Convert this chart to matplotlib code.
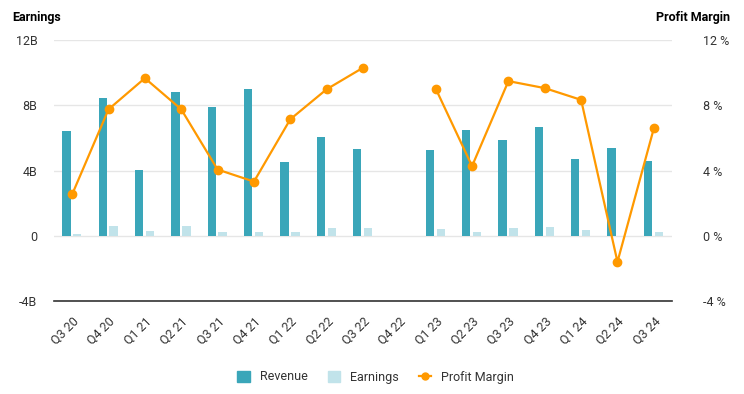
import numpy as np
import matplotlib.pyplot as plt
from matplotlib.lines import Line2D
from matplotlib.patches import Patch

plt.rcParams['font.family'] = ['Roboto', 'DejaVu Sans']

quarters = ["Q3 20", "Q4 20", "Q1 21", "Q2 21", "Q3 21", "Q4 21", "Q1 22", "Q2 22", "Q3 22",
            "Q4 22", "Q1 23", "Q2 23", "Q3 23", "Q4 23", "Q1 24", "Q2 24", "Q3 24"]
# billions
revenue = [6.4, 8.47, 4.06, 8.84, 7.92, 8.98, 4.53, 6.03, 5.33,
           np.nan, 5.27, 6.5, 5.9, 6.69, 4.72, 5.4, 4.6]
earnings = [0.12, 0.6, 0.31, 0.6, 0.25, 0.25, 0.25, 0.47, 0.47,
            np.nan, 0.41, 0.23, 0.47, 0.53, 0.37, np.nan, 0.23]
# percent
margin = [2.54, 7.75, 9.66, 7.75, 4.06, 3.32, 7.14, 8.98, 10.3,
          np.nan, 9.02, 4.27, 9.48, 9.05, 8.33, -1.6, 6.58]

left_ticks = [-4, 0, 4, 8, 12]
left_labels = ["-4B", "0", "4B", "8B", "12B"]
right_labels = ["-4 %", "0 %", "4 %", "8 %", "12 %"]

c_rev = "#3aa6b9"
c_earn = "#c1e3ea"
c_margin = "#ff9900"
c_text = "#333333"

fig = plt.figure(figsize=(7.44, 3.94), dpi=100)
ax = fig.add_axes([54 / 744, 1 - 301 / 394, 618 / 744, 261 / 394])
x = np.arange(len(quarters))

ax.bar(x - 0.16, revenue, width=0.23, color=c_rev, zorder=2)
ax.bar(x + 0.14, earnings, width=0.23, color=c_earn, zorder=2)

ax.set_xlim(-0.5, len(quarters) - 0.5)
ax.set_ylim(-4, 12)
ax.set_yticks(left_ticks)
ax.set_yticklabels(left_labels)
ax.grid(axis="y", color="#e6e6e6", linewidth=1, zorder=0)
ax.set_xticks(x)
ax.set_xticklabels(quarters, rotation=45, ha="right", rotation_mode="anchor")
for s in ["top", "right", "left"]:
    ax.spines[s].set_visible(False)
ax.spines["bottom"].set_color(c_text)
ax.spines["bottom"].set_linewidth(1.2)
ax.tick_params(axis="both", length=0, colors=c_text, labelsize=9)
ax.tick_params(axis="x", pad=10)
ax.tick_params(axis="y", pad=12)

ax2 = ax.twinx()
ax2.plot(x, margin, color=c_margin, linewidth=1.6, marker="o", markersize=6, zorder=3)
ax2.set_ylim(-4, 12)
ax2.set_yticks(left_ticks)
ax2.set_yticklabels(right_labels)
for s in ax2.spines.values():
    s.set_visible(False)
ax2.tick_params(axis="y", length=0, colors=c_text, labelsize=9, pad=22)

fig.text(12 / 744, 1 - 17 / 394, "Earnings", fontsize=9, fontweight="bold", va="center")
fig.text(730 / 744, 1 - 17 / 394, "Profit Margin", fontsize=9, fontweight="bold",
         va="center", ha="right")

handles = [Patch(color=c_rev, label="Revenue"),
           Patch(color=c_earn, label="Earnings"),
           Line2D([0], [0], color=c_margin, marker="o", markersize=5, linewidth=1.6,
                  label="Profit Margin")]
leg = fig.legend(handles=handles, loc="center", bbox_to_anchor=(0.505, 1 - 377 / 394),
                 ncol=3, frameon=False, fontsize=9, handlelength=1.0, handleheight=1.0,
                 columnspacing=1.6, handletextpad=0.8)
for t in leg.get_texts():
    t.set_color(c_text)

fig.savefig("out.png", dpi=100)
